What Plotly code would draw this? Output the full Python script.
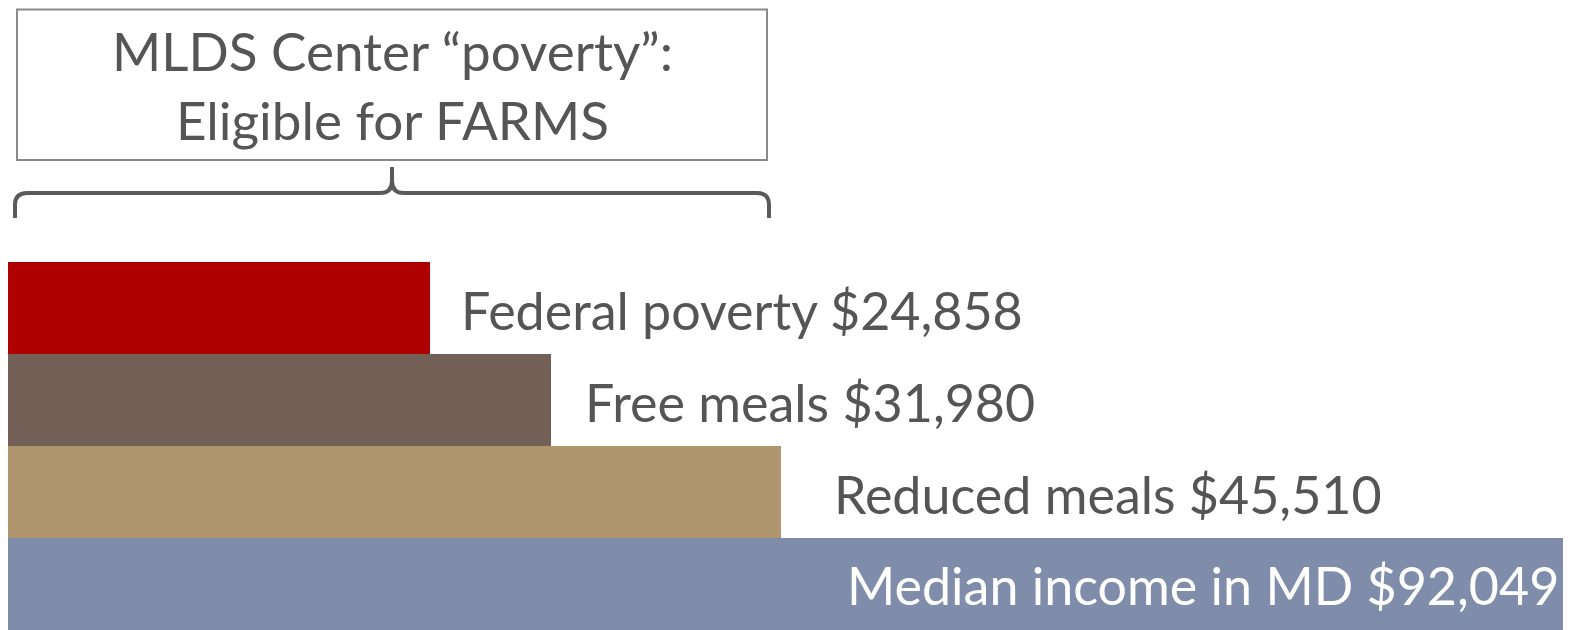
import plotly.graph_objects as go

categories = ["Federal poverty", "Free meals", "Reduced meals", "Median income in MD"]
values = [24858, 31980, 45510, 92049]
colors = ["#AE0000", "#736056", "#AF966F", "#7F8DAB"]
box_title = "MLDS Center “poverty”:<br>Eligible for FARMS"

OFF = 8  # page body margin
W, H = 1563, 622
ML, MR, MT, MB = 0, 0, 254, 0
PW = W - ML - MR
PH = H - MT - MB
XMAX = max(values)

def px(p):
    return (p - OFF - ML) / PW

def py(p):
    return (H - MB - (p - OFF)) / PH

FONT = "Lato"
GRAY = "#555555"

fig = go.Figure()
fig.add_trace(go.Bar(
    y=categories, x=values, orientation="h",
    marker=dict(color=colors, line=dict(width=0)),
    hoverinfo="skip", showlegend=False,
))

labels = [f"{c} ${v:,}" for c, v in zip(categories, values)]
shifts = [29, 32, 51]
for i in range(3):
    fig.add_annotation(x=values[i], y=categories[i], text=labels[i],
                       xanchor="left", yanchor="middle", xshift=shifts[i], yshift=-2,
                       showarrow=False, font=dict(family=FONT, size=52, color=GRAY))
fig.add_annotation(x=values[3], y=categories[3], text=labels[3],
                   xanchor="right", yanchor="middle", xshift=-10, yshift=-1,
                   showarrow=False, font=dict(family=FONT, size=52, color="white"))

# Box
fig.add_shape(type="rect", xref="paper", yref="paper",
              x0=px(17), x1=px(767), y0=py(160), y1=py(9.5),
              line=dict(color="#8a8a8a", width=2), fillcolor="white")
fig.add_annotation(xref="paper", yref="paper", x=px(392), y=py(85),
                   text=box_title, showarrow=False, xanchor="center", yanchor="middle",
                   font=dict(family=FONT, size=53, color=GRAY))

# Brace
xl, xr, xm = px(15), px(769), px(392)
yt, yb, ytip = py(193), py(218), py(167)
r = 12 / PW
rv = 12 / PH
path = (f"M {xl},{yb} L {xl},{yt - rv} Q {xl},{yt} {xl + r},{yt} "
        f"L {xm - r},{yt} Q {xm},{yt} {xm},{yt + rv} L {xm},{ytip} "
        f"M {xm},{yt + rv} Q {xm},{yt} {xm + r},{yt} "
        f"L {xr - r},{yt} Q {xr},{yt} {xr},{yt - rv} L {xr},{yb}")
fig.add_shape(type="path", xref="paper", yref="paper", path=path,
              line=dict(color="#5a5a5a", width=4))

fig.update_layout(
    width=W, height=H,
    margin=dict(l=ML, r=MR, t=MT, b=MB, pad=0),
    paper_bgcolor="white", plot_bgcolor="white",
    bargap=0,
    xaxis=dict(range=[0, XMAX], visible=False, fixedrange=True),
    yaxis=dict(autorange=False, range=[3.5, -0.5], visible=False, fixedrange=True),
)
fig.write_html("out.html")
